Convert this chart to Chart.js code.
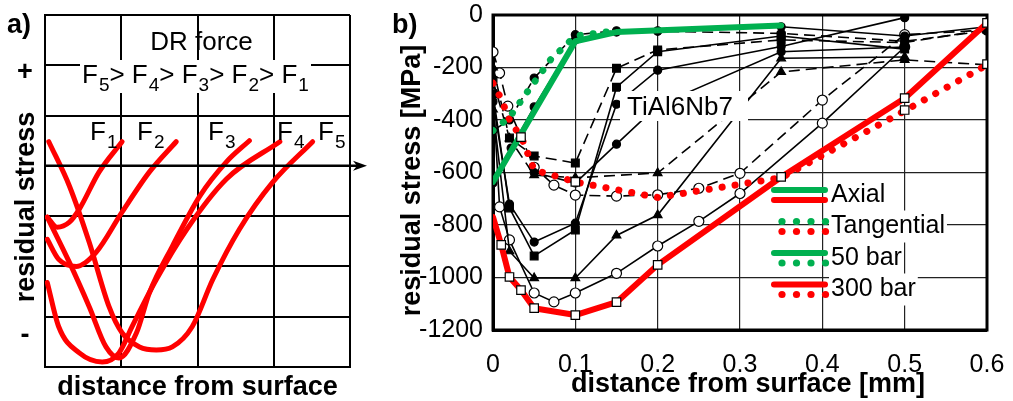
<!DOCTYPE html>
<html>
<head>
<meta charset="utf-8">
<script src="https://cdn.jsdelivr.net/npm/chart.js@4/dist/chart.umd.min.js"></script>
<style>
  body { margin: 0; background: #fff; width: 1013px; height: 401px; overflow: hidden; position: relative; }
  #grafico-a { position: absolute; left: 0; top: 0; }
  #grafico-b { position: absolute; left: 375px; top: 0; }
</style>
</head>
<body>
<canvas id="grafico-a" width="375" height="401"></canvas>
<canvas id="grafico-b" width="638" height="401"></canvas>
<script>
// ---- painel a) : curvas esquematicas (x em colunas da grade, y em linhas)
const curvaF1 = [[0.03, -1.02], [0.16, -1.22], [0.32, -1.12], [0.45, -0.86], [0.71, -0.12], [1.01, 0.48]];
const curvaF2 = [[0.03, -1.46], [0.18, -1.86], [0.41, -2.0], [0.67, -1.72], [1.01, -0.92], [1.37, -0.12], [1.72, 0.48]];
const curvaF3 = [[0.03, -1.02], [0.32, -1.92], [0.58, -2.8], [0.8, -3.6], [0.97, -3.82], [1.2, -3.32], [1.37, -2.52], [1.67, -1.6], [2.03, -0.6], [2.38, 0.08], [2.68, 0.5]];
const curvaF4 = [[0.03, -2.32], [0.18, -3.2], [0.45, -3.72], [0.75, -3.9], [0.97, -3.72], [1.14, -3.2], [1.46, -2.26], [1.86, -1.26], [2.38, -0.26], [3.08, 0.48]];
const curvaF5 = [[0.05, 0.48], [0.32, -0.4], [0.58, -1.52], [0.84, -2.8], [1.01, -3.32], [1.24, -3.6], [1.46, -3.66], [1.67, -3.6], [1.93, -3.2], [2.2, -2.26], [2.55, -1.26], [2.99, -0.32], [3.51, 0.48]];
const ordemForca = ['5', '4', '3', '2', '1'];

// ---- painel b) : tensao residual [MPa] x distancia [mm]
const xTicksB = [0, 0.1, 0.2, 0.3, 0.4, 0.5, 0.6];
const yTicksB = [0, -200, -400, -600, -800, -1000, -1200];

const axial50 = [[0, -636], [0.1, -100], [0.15, -65], [0.35, -40]];
const tang50 = [[0, -440], [0.02, -390], [0.04, -300], [0.07, -170], [0.1, -80], [0.15, -60]];
const axial300 = [[0, -770], [0.01, -876], [0.02, -998], [0.034, -1048], [0.05, -1117], [0.1, -1143], [0.15, -1094], [0.2, -952], [0.35, -617], [0.5, -317], [0.6, -30]];
const tang300 = [[0, -260], [0.01, -320], [0.02, -400], [0.035, -470], [0.05, -590], [0.1, -636], [0.2, -695], [0.35, -620], [0.5, -365], [0.6, -190]];
const quadradosAbertos = [[0.01, -876], [0.02, -998], [0.034, -1048], [0.05, -1117], [0.1, -1143], [0.15, -1094], [0.2, -952], [0.35, -617], [0.5, -317], [0.6, -30], [0.034, -465], [0.1, -636], [0.5, -362], [0.6, -187]];

const preto1 = [[0, -640], [0.022, -507], [0.05, -350], [0.1, -95], [0.15, -65], [0.2, -60], [0.35, -45], [0.5, -80], [0.6, -45]];
const preto2 = [[0, -440], [0.02, -400], [0.05, -240], [0.1, -75], [0.15, -60], [0.2, -62], [0.35, -70], [0.5, -100], [0.6, -60]];
const preto3 = [[0, -250], [0.02, -469], [0.05, -537], [0.1, -564], [0.15, -203], [0.2, -133], [0.35, -95], [0.5, -105], [0.6, -55]];
const preto4 = [[0, -300], [0.02, -735], [0.05, -918], [0.1, -819], [0.15, -275], [0.2, -140], [0.35, -80], [0.5, -130]];
const preto5 = [[0, -330], [0.02, -720], [0.05, -865], [0.1, -793], [0.15, -340], [0.2, -210], [0.35, -120], [0.5, -10]];
const preto6 = [[0, -360], [0.02, -900], [0.05, -1002], [0.1, -1002], [0.15, -840], [0.2, -762], [0.35, -165], [0.5, -160]];
const preto7 = [[0, -200], [0.02, -470], [0.05, -610], [0.1, -620], [0.2, -602], [0.35, -217], [0.5, -171], [0.6, -190]];
const preto8 = [[0.05, -600], [0.1, -640], [0.15, -492], [0.2, -345], [0.35, -140], [0.5, -122]];
const preto9 = [[0, -300], [0.008, -731], [0.02, -857], [0.05, -1059], [0.074, -1093], [0.1, -1059], [0.15, -984], [0.2, -880], [0.25, -786], [0.3, -680], [0.4, -412], [0.5, -122]];
const preto10 = [[0, -141], [0.008, -221], [0.018, -347], [0.05, -580], [0.074, -648], [0.1, -686], [0.15, -690], [0.2, -685], [0.25, -660], [0.3, -603], [0.4, -324], [0.5, -75], [0.6, -57]];

const FONTE = '"Liberation Sans", Arial, sans-serif';
const VERDE = '#00b050';
const VERMELHO = '#ff0000';
Chart.defaults.font.family = FONTE;
Chart.defaults.color = '#000';

const pts = arr => arr.map(([x, y]) => ({ x, y }));

function escreveF(ctx, x, y, num, big, small) {
  ctx.font = big + 'px ' + FONTE;
  ctx.fillText('F', x, y);
  const w = ctx.measureText('F').width + 1;
  ctx.font = small + 'px ' + FONTE;
  ctx.fillText(num, x + w, y + 8);
  return x + w + ctx.measureText(num).width;
}

// ---------------- painel a)
const textoA = {
  id: 'textoA',
  afterDraw(chart) {
    const { ctx, chartArea: a } = chart;
    const y0 = chart.scales.y.getPixelForValue(0);
    ctx.save();
    // eixo com seta
    ctx.strokeStyle = '#000';
    ctx.fillStyle = '#000';
    ctx.lineWidth = 2.5;
    ctx.beginPath();
    ctx.moveTo(a.left, y0);
    ctx.lineTo(a.right + 12, y0);
    ctx.stroke();
    const ponta = a.right + 17;
    ctx.beginPath();
    ctx.moveTo(ponta, y0);
    ctx.lineTo(ponta - 14, y0 - 5);
    ctx.lineTo(ponta - 10, y0);
    ctx.lineTo(ponta - 14, y0 + 5);
    ctx.closePath();
    ctx.fill();

    // caixa branca da linha F5 > ... > F1
    ctx.fillStyle = '#fff';
    ctx.fillRect(a.left + 35, a.top + 45, 231, 33);
    ctx.fillStyle = '#000';
    ctx.textBaseline = 'alphabetic';
    ctx.font = '26px ' + FONTE;
    ctx.textAlign = 'center';
    ctx.fillText('DR force', (a.left + a.right) / 2 + 4, a.top + 35);
    ctx.textAlign = 'left';
    let x = a.left + 37;
    ordemForca.forEach((n, i) => {
      x = escreveF(ctx, x, a.top + 68, n, 26, 19);
      if (i < ordemForca.length - 1) {
        ctx.font = '26px ' + FONTE;
        ctx.fillText('> ', x, a.top + 68);
        x += ctx.measureText('> ').width;
      }
    });
    // rotulos das curvas
    const posF = [90, 137, 208, 277, 318];
    posF.forEach((px, i) => escreveF(ctx, px, 140, String(i + 1), 26, 19));

    ctx.font = 'bold 27px ' + FONTE;
    ctx.textAlign = 'center';
    ctx.textBaseline = 'middle';
    ctx.fillText('+', 25, 73);
    ctx.fillText('-', 25, 336);
    ctx.textBaseline = 'alphabetic';
    ctx.textAlign = 'left';
    ctx.fillText('a)', 7, 33);
    ctx.textAlign = 'center';
    ctx.fillText('distance from surface', (a.left + a.right) / 2, 395);
    ctx.translate(34, (a.top + a.bottom) / 2 + 16);
    ctx.rotate(-Math.PI / 2);
    ctx.fillText('residual stress', 0, 0);
    ctx.restore();
  }
};

const curvas = [curvaF1, curvaF2, curvaF3, curvaF4, curvaF5];
new Chart(document.getElementById('grafico-a').getContext('2d'), {
  type: 'line',
  data: {
    datasets: curvas.map((c, i) => ({
      label: 'F' + (i + 1),
      data: pts(c),
      borderColor: VERMELHO,
      borderWidth: 5,
      borderCapStyle: 'round',
      pointRadius: 0,
      cubicInterpolationMode: 'monotone',
      fill: false
    }))
  },
  options: {
    responsive: false,
    animation: false,
    layout: { padding: { left: 45, right: 25, top: 15, bottom: 34 } },
    plugins: { legend: { display: false }, tooltip: { enabled: false } },
    scales: {
      x: {
        type: 'linear', min: 0, max: 4,
        ticks: { display: false, stepSize: 1 },
        grid: { color: '#000', lineWidth: 2, drawTicks: false },
        border: { display: true, color: '#000', width: 2 },
        afterFit: s => { s.height = 0; }
      },
      y: {
        type: 'linear', min: -4, max: 3,
        ticks: { display: false, stepSize: 1 },
        grid: { color: '#000', lineWidth: 2, drawTicks: false },
        border: { display: true, color: '#000', width: 2 },
        afterFit: s => { s.width = 0; }
      }
    }
  },
  plugins: [textoA]
});

// ---------------- painel b)
function linhaLegenda(ctx, x1, x2, y, cor, pontilhada) {
  ctx.fillStyle = cor;
  ctx.strokeStyle = cor;
  if (pontilhada) {
    for (let px = x1 + 8; px <= x2 + 1; px += 14.5) {
      ctx.beginPath();
      ctx.arc(px, y, 3.6, 0, Math.PI * 2);
      ctx.fill();
    }
  } else {
    ctx.lineWidth = 6;
    ctx.lineCap = 'round';
    ctx.beginPath();
    ctx.moveTo(x1, y);
    ctx.lineTo(x2, y);
    ctx.stroke();
  }
}

const molduraB = {
  id: 'molduraB',
  beforeDatasetsDraw(chart) {
    const { ctx, chartArea: a } = chart;
    ctx.save();
    ctx.strokeStyle = '#000';
    ctx.lineWidth = 3;
    ctx.strokeRect(a.left, a.top, a.right - a.left, a.bottom - a.top);
    ctx.restore();
  },
  afterDatasetsDraw(chart) {
    const { ctx, chartArea: a } = chart;
    ctx.save();
    // rotulo do material
    ctx.font = '26px ' + FONTE;
    ctx.fillStyle = '#fff';
    ctx.fillRect(a.left + 127, a.top + 76, 128, 30);
    ctx.fillStyle = '#000';
    ctx.textBaseline = 'middle';
    ctx.fillText('TiAl6Nb7', a.left + 134, a.top + 93);

    // legenda
    const lx1 = a.left + 281, lx2 = a.left + 332, tx = a.left + 338;
    const linhas = [
      ['Axial', [VERDE, false], [VERMELHO, false]],
      ['Tangential', [VERDE, true], [VERMELHO, true]],
      ['50 bar', [VERDE, false], [VERDE, true]],
      ['300 bar', [VERMELHO, false], [VERMELHO, true]]
    ];
    linhas.forEach(([txt, l1, l2], i) => {
      const yc = a.top + 180 + i * 31.5;
      ctx.font = '25px ' + FONTE;
      const w = ctx.measureText(txt).width;
      ctx.fillStyle = '#fff';
      ctx.fillRect(tx - 2, yc - 16, w + 4, 32);
      linhaLegenda(ctx, lx1, lx2, yc - 5, l1[0], l1[1]);
      linhaLegenda(ctx, lx1, lx2, yc + 5, l2[0], l2[1]);
      ctx.fillStyle = '#000';
      ctx.textBaseline = 'middle';
      ctx.fillText(txt, tx, yc);
    });

    // titulos
    ctx.font = 'bold 27px ' + FONTE;
    ctx.textBaseline = 'alphabetic';
    ctx.textAlign = 'left';
    ctx.fillText('b)', 17, 33);
    ctx.textAlign = 'center';
    ctx.fillText('distance from surface [mm]', (a.left + a.right) / 2 + 8, 392);
    ctx.translate(45, (a.top + a.bottom) / 2 + 8);
    ctx.rotate(-Math.PI / 2);
    ctx.fillText('residual stress [MPa]', 0, 0);
    ctx.restore();
  }
};

function serieColorida(label, dados, cor, pontilhada) {
  return {
    label, data: pts(dados), order: 0,
    borderColor: cor, backgroundColor: cor,
    borderWidth: pontilhada ? 7 : 6,
    borderDash: pontilhada ? [0.1, 13] : [],
    borderCapStyle: 'round',
    borderJoinStyle: 'round',
    pointRadius: 0
  };
}

function seriePreta(label, dados, tracejada, estilo, cheio) {
  return {
    label, data: pts(dados), order: 2,
    borderColor: '#000', borderWidth: 1.6,
    borderDash: tracejada ? [11, 6] : [],
    pointStyle: estilo,
    pointRadius: estilo === 'circle' ? (cheio ? 4 : 5) : (estilo === 'rect' ? 5.5 : 5),
    pointBackgroundColor: cheio ? '#000' : '#fff',
    pointBorderColor: '#000',
    pointBorderWidth: 1.2
  };
}

new Chart(document.getElementById('grafico-b').getContext('2d'), {
  type: 'line',
  data: {
    datasets: [
      {
        label: 'squares', data: pts(quadradosAbertos), order: -1, showLine: false,
        pointStyle: 'rect', pointRadius: 6, pointBackgroundColor: '#fff',
        pointBorderColor: '#000', pointBorderWidth: 1.2
      },
      serieColorida('50 bar axial', axial50, VERDE, false),
      serieColorida('50 bar tangential', tang50, VERDE, true),
      serieColorida('300 bar axial', axial300, VERMELHO, false),
      serieColorida('300 bar tangential', tang300, VERMELHO, true),
      seriePreta('p1', preto1, false, 'circle', true),
      seriePreta('p2', preto2, true, 'circle', true),
      seriePreta('p3', preto3, true, 'rect', true),
      seriePreta('p4', preto4, false, 'rect', true),
      seriePreta('p5', preto5, false, 'circle', true),
      seriePreta('p6', preto6, false, 'triangle', true),
      seriePreta('p7', preto7, true, 'triangle', true),
      seriePreta('p8', preto8, false, 'circle', true),
      seriePreta('p9', preto9, false, 'circle', false),
      seriePreta('p10', preto10, true, 'circle', false)
    ]
  },
  options: {
    responsive: false,
    animation: false,
    layout: { padding: { left: 0, right: 26, top: 15, bottom: 0 } },
    plugins: { legend: { display: false }, tooltip: { enabled: false } },
    scales: {
      x: {
        type: 'linear', min: 0, max: 0.6,
        afterBuildTicks: s => { s.ticks = xTicksB.map(v => ({ value: v })); },
        ticks: { font: { size: 25 }, padding: 20, callback: v => String(Math.round(v * 10) / 10) },
        grid: { color: '#222', lineWidth: 1.2, drawTicks: false },
        border: { display: true, color: '#000', width: 3 },
        afterFit: s => { s.height = 71; s.paddingLeft = 0; s.paddingRight = 0; }
      },
      y: {
        type: 'linear', min: -1200, max: 0,
        afterBuildTicks: s => { s.ticks = yTicksB.map(v => ({ value: v })); },
        ticks: { font: { size: 25 }, padding: 10, callback: v => String(v) },
        grid: { color: '#222', lineWidth: 1.2, drawTicks: false },
        border: { display: true, color: '#000', width: 3 },
        afterFit: s => { s.width = 118; s.paddingTop = 8; s.paddingBottom = 0; }
      }
    }
  },
  plugins: [molduraB]
});
</script>
</body>
</html>
